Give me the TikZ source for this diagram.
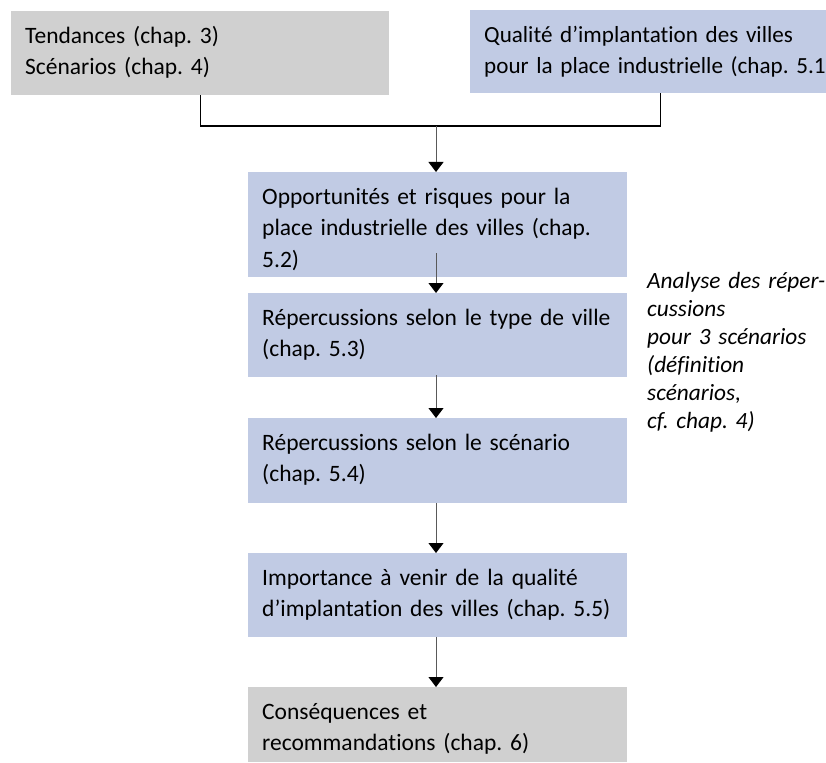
\documentclass[tikz,border=0pt]{standalone}
\usepackage{fontspec}
\setmainfont[Ligatures={NoCommon,NoContextual}]{Carlito}
\frenchspacing
\usetikzlibrary{arrows.meta}
\definecolor{boxblue}{RGB}{193,203,228}
\definecolor{boxgrey}{RGB}{208,208,208}
\newcommand\oneline[1]{\mbox{#1}}
\begin{document}
\begin{tikzpicture}[x=1pt,y=-1pt,
  box/.style={anchor=north west, inner xsep=14pt, inner ysep=0pt, align=left,
    font=\frenchspacing\fontsize{23.5}{31.5}\selectfont, text height=32pt},
  bluebox/.style={box, fill=boxblue},
  greybox/.style={box, fill=boxgrey},
  bracket/.style={draw=black, line width=1.1pt},
  arr/.style={draw=black!65, line width=0.9pt, -{Triangle[width=15pt,length=10pt,color=black,fill=black]}},
  note/.style={anchor=north west, inner sep=0pt, align=left, text width=178pt,
    font=\frenchspacing\itshape\fontsize{23.3}{28}\selectfont, text height=22pt}]
\useasboundingbox (0,0) rectangle (826,762);

\node[greybox, text width=350pt, text depth=52pt] (tl) at (11,11)
  {\oneline{Tendances (chap. 3)}\\\oneline{Scénarios (chap. 4)}};
\node[bluebox, text width=328pt, text depth=51pt, font=\frenchspacing\fontsize{23.1}{31.5}\selectfont] (tr) at (470,10)
  {\oneline{Qualité d’implantation des villes}\\\oneline{pour la place industrielle (chap. 5.1}};

\node[bluebox, text width=351pt, text depth=73pt] (b2) at (248,172)
  {\oneline{Opportunités et risques pour la}\\\oneline{place industrielle des villes (chap.}\\5.2)};
\node[bluebox, text width=351pt, text depth=52pt] (b3) at (248,293)
  {\oneline{Répercussions selon le type de ville}\\\oneline{(chap. 5.3)}};
\node[bluebox, text width=351pt, text depth=53pt] (b4) at (248,418)
  {\oneline{Répercussions selon le scénario}\\\oneline{(chap. 5.4)}};
\node[bluebox, text width=351pt, text depth=52pt] (b5) at (248,553)
  {\oneline{Importance à venir de la qualité}\\\oneline{d’implantation des villes (chap. 5.5)}};
\node[greybox, text width=351pt, text depth=43pt] (b6) at (248,687)
  {\oneline{Conséquences et}\\\oneline{recommandations (chap. 6)}};

\node[note] (nt) at (647,266)
  {\oneline{Analyse des réper-}\\cussions\\\oneline{pour 3 scénarios}\\(définition\\scénarios,\\\oneline{cf. chap. 4)}};

\coordinate (j) at (436,126);
\draw[bracket] (tl.south) |- (j);
\draw[bracket] (j) -| ([xshift=12pt]tr.south);
\draw[arr] (j) -- (j |- b2.north);
\draw[arr] ([yshift=24pt]b2.south -| j) -- (j |- b3.north);
\draw[arr] ([yshift=2pt]b3.south -| j) -- (j |- b4.north);
\draw[arr] (j |- b4.south) -- (j |- b5.north);
\draw[arr] (j |- b5.south) -- (j |- b6.north);
\end{tikzpicture}
\end{document}
